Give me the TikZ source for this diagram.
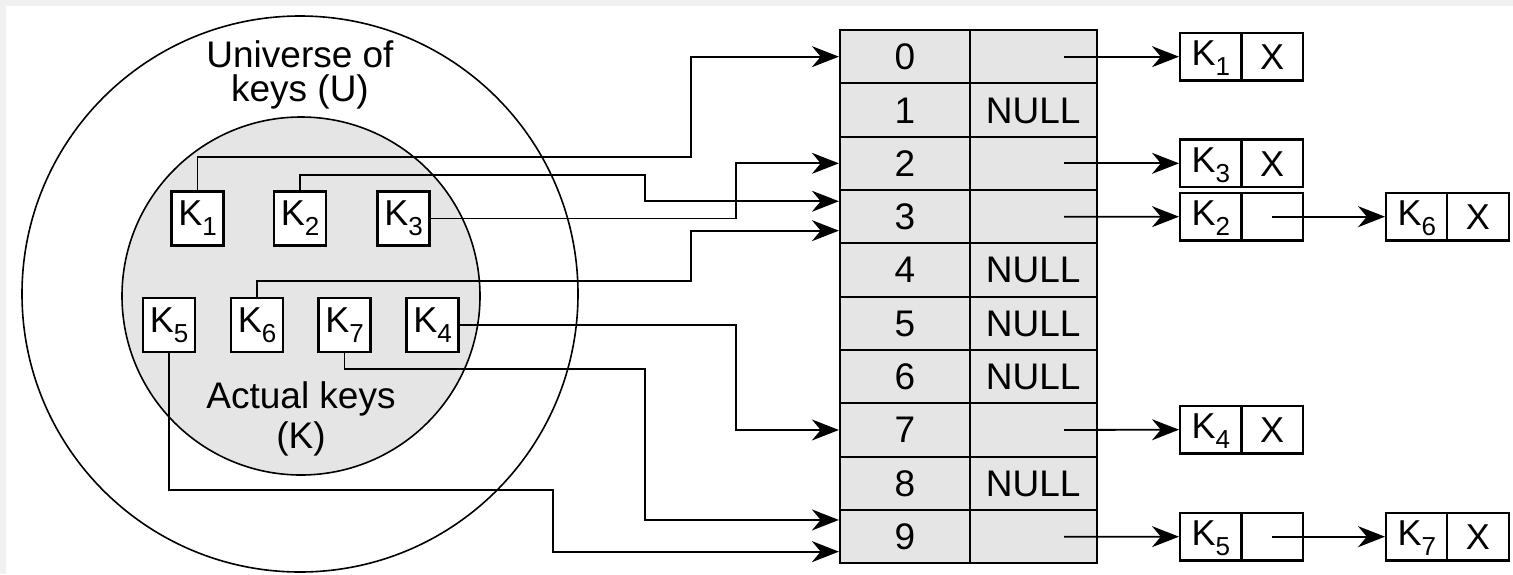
\documentclass[tikz,border=0pt]{standalone}
\usepackage{fontspec}
\setmainfont{Liberation Sans}
\usetikzlibrary{arrows.meta,calc}

% key label with a lowered index
\newcommand\kk[1]{K\raisebox{-10pt}{\fontsize{26}{26}\selectfont #1}}

\begin{document}
\begin{tikzpicture}[x=1pt,y=-1pt,
  big/.style={font=\fontsize{37}{37}\selectfont, inner sep=0pt},
  keybox/.style={draw, line width=2.2pt, fill=white, minimum width=52pt,
    minimum height=54pt, inner sep=0pt, text height=24pt, text depth=10pt,
    font=\fontsize{36}{36}\selectfont},
  idx/.style={draw, line width=2.2pt, fill=gray!20, minimum width=129.6pt,
    minimum height=53.33pt, inner sep=0pt, text height=26pt, text depth=0pt,
    font=\fontsize{37}{37}\selectfont},
  ptr/.style={idx, minimum width=127.2pt},
  lkey/.style={draw, line width=2.2pt, fill=white, minimum width=61.5pt,
    minimum height=47.7pt, inner sep=0pt, text height=24pt, text depth=6pt,
    font=\fontsize{36}{36}\selectfont},
  lnext/.style={lkey, text height=26.5pt, text depth=0pt},
  link/.style={line width=1.8pt, -{Stealth[length=27pt,width=21pt]}},
  ring/.style={line width=1.6pt}
]
% page and its thin grey frame
\fill[gray!12] (0,0) rectangle (1513,574);
\fill[white] (6,6) rectangle (1513,574);
\useasboundingbox (0,0) rectangle (1513,574);

% universe and actual key sets
\draw[ring] (300,294) circle[radius=278];
\draw[ring, fill=gray!20] (301,296) circle[radius=179];

\node[big, anchor=base] (u1) at (300,67.8) {Universe of};
\node[big, anchor=base] (u2) at (300,101.8) {keys (U)};
\node[big, anchor=base] (a1) at (301,408.4) {Actual keys};
\node[big, anchor=base] (a2) at (301,448.7) {(K)};

% hash table
\foreach \i/\t in {0/,1/NULL,2/,3/,4/NULL,5/NULL,6/NULL,7/,8/NULL,9/} {
  \node[idx] (i\i) at (904.8,56.67+53.33*\i) {\i};
  \node[ptr] (p\i) at (1033.2,56.67+53.33*\i) {\t};
}
\foreach \i in {0,2,3,7,9}
  \coordinate (s\i) at ($(p\i.center)+(30.8,0)$);

% chains
\node[lkey]  (a0) at (1210.85,56.67) {\kk{1}};
\node[lnext] (b0) at (1272.2,56.67) {X};
\node[lkey]  (a2) at (1210.85,163.33) {\kk{3}};
\node[lnext] (b2) at (1272.2,163.33) {X};
\node[lkey]  (a3) at (1210.85,216.67) {\kk{2}};
\node[lnext] (b3) at (1272.2,216.67) {};
\node[lkey]  (c3) at (1416.85,216.67) {\kk{6}};
\node[lnext] (d3) at (1477.85,216.67) {X};
\node[lkey]  (a7) at (1210.85,429.67) {\kk{4}};
\node[lnext] (b7) at (1272.2,429.67) {X};
\node[lkey]  (a9) at (1210.85,536.67) {\kk{5}};
\node[lnext] (b9) at (1272.2,536.67) {};
\node[lkey]  (c9) at (1416.85,536.67) {\kk{7}};
\node[lnext] (d9) at (1477.85,536.67) {X};

\draw[link] (s0) -- (a0.west);
\draw[link] (s2) -- (a2.west);
\draw[link] (s3) -- (a3.west);
\draw[link] (s7) -- (a7.west);
\draw[link] (s9) -- (a9.west);
\draw[link] (b3.center) -- (c3.west);
\draw[link] (b9.center) -- (c9.west);

% keys
\node[keybox] (k1) at (197.5,218.5) {\kk{1}};
\node[keybox] (k2) at (300,218.5) {\kk{2}};
\node[keybox] (k3) at (403.5,218.5) {\kk{3}};
\node[keybox] (k5) at (169,325) {\kk{5}};
\node[keybox] (k6) at (257,325) {\kk{6}};
\node[keybox] (k7) at (344.5,325) {\kk{7}};
\node[keybox] (k4) at (432.5,325) {\kk{4}};

% key to slot mapping
\draw[link] (k1.north) |- (691,157) |- (i0.west);
\draw[link] (k2.north) |- (645,175) |- ([yshift=15.4pt]i3.west);
\draw[link] (k3.east) -- (736,218.5) |- (i2.west);
\draw[link] (k6.north) |- (691,281) |- ([yshift=-14pt]i3.west);
\draw[link] (k4.east) -- (736,325) |- (i7.west);
\draw[link] (k7.south) |- (645,369) |- ([yshift=16.7pt]i9.west);
\draw[link] (k5.south) |- (552.6,490) |- ([yshift=-15pt]i9.west);
\end{tikzpicture}
\end{document}
